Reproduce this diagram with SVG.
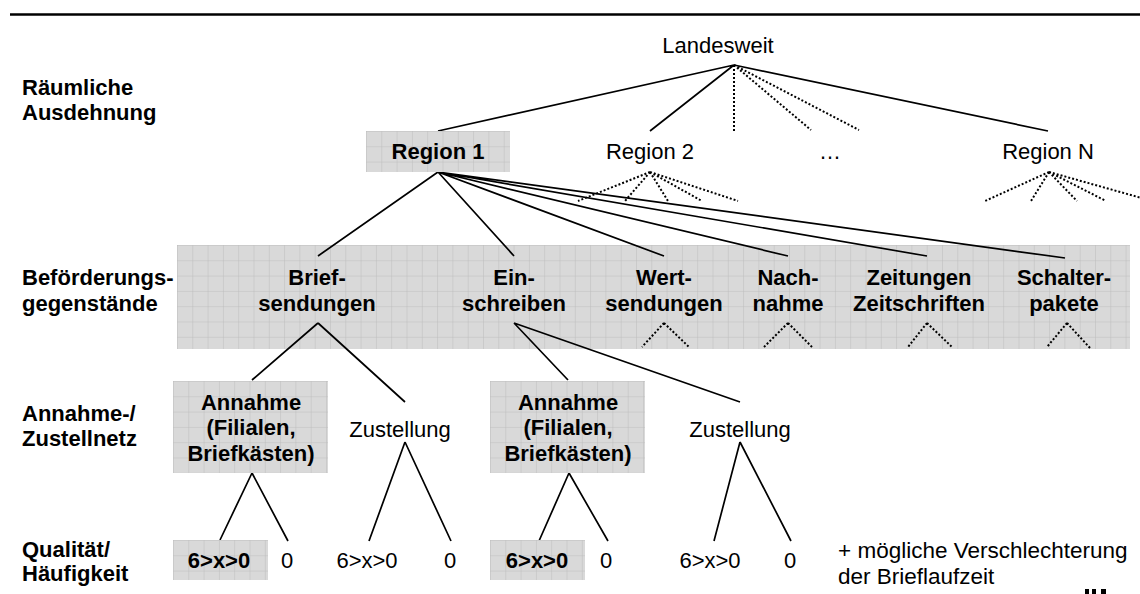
<svg xmlns="http://www.w3.org/2000/svg" width="1140" height="594" viewBox="0 0 1140 594">
<style>
text{font-family:"Liberation Sans",Arial,sans-serif;font-size:22px;fill:#000}
.b{font-weight:bold}
.m{text-anchor:middle}
.n{font-size:22.5px}
.ln{stroke:#000;stroke-width:1.7;fill:none}
.dt{stroke:#000;stroke-width:2;stroke-dasharray:2 2;fill:none}
.box{fill:url(#grid)}
</style>
<defs>
<pattern id="grid" patternUnits="userSpaceOnUse" width="15.3" height="15.3">
<rect width="15.3" height="15.3" fill="#d9d9d9"/>
<path d="M0 0V15.3M0 0H15.3" stroke="#bdbdbd" stroke-width="1"/>
</pattern>
</defs>
<rect width="1140" height="594" fill="#fff"/>
<line x1="10" y1="14.5" x2="1140" y2="14.5" stroke="#000" stroke-width="2.4"/>

<g id="levels">
<text class="b" x="22" y="95">Räumliche</text>
<text class="b" x="22" y="120">Ausdehnung</text>
<text class="b" x="22" y="285">Beförderungs-</text>
<text class="b" x="22" y="311">gegenstände</text>
<text class="b" x="22" y="421">Annahme-/</text>
<text class="b" x="22" y="446">Zustellnetz</text>
<text class="b" x="22" y="557">Qualität/</text>
<text class="b" x="22" y="581">Häufigkeit</text>
</g>

<g id="band"><rect class="box" transform="translate(177,245)" width="953" height="104"/></g>

<g id="connectors">
<path class="ln" d="M734 65L438 131M734 65L650 131M734 65L1048 131"/>
<path class="dt" d="M734 65L734 131M734 65L811 130M734 65L859 130"/>
<path class="dt" d="M650 172L578 201M650 172L625 201M650 172L668 201M650 172L702 201M650 172L738 201"/>
<path class="dt" d="M1049 172L985 201M1049 172L1031 201M1049 172L1077 201M1049 172L1106 201M1049 172L1145 199"/>
<path class="ln" d="M438 172L318 256M438 172L514 256M438 172L664 256M438 172L788 256M438 172L927 256M438 172L1065 258"/>
<path class="dt" d="M664 323L642 347M664 323L689 347M788 323L764 347M788 323L812 347M927 323L908 347M927 323L952 347M1067 323L1047 347M1067 323L1090 348"/>
<path class="ln" d="M318 323L252 380M318 323L405 402M514 323L568 380M514 323L740 402"/>
<path class="ln" d="M252 473L220 540M252 473L288 541M405 442L369 541M405 442L451 541"/>
<path class="ln" d="M569 473L539 541M569 473L608 541M740 442L714 541M740 442L791 541"/>
</g>

<g id="landesweit"><text class="m" x="718" y="53">Landesweit</text></g>
<g id="region1"><rect class="box" transform="translate(366,131)" width="144" height="41"/><text class="b m" x="438" y="159">Region 1</text></g>
<g id="region2"><text class="m" x="650" y="159">Region 2</text></g>
<g id="ellipsis"><text class="m" x="830" y="159">…</text></g>
<g id="regionN"><text class="m" x="1048" y="159">Region N</text></g>

<g id="briefsendungen"><text class="b m" x="317" y="285">Brief-</text><text class="b m" x="317" y="311">sendungen</text></g>
<g id="einschreiben"><text class="b m" x="514" y="285">Ein-</text><text class="b m" x="514" y="311">schreiben</text></g>
<g id="wertsendungen"><text class="b m" x="664" y="285">Wert-</text><text class="b m" x="664" y="311">sendungen</text></g>
<g id="nachnahme"><text class="b m" x="788" y="285">Nach-</text><text class="b m" x="788" y="311">nahme</text></g>
<g id="zeitungen"><text class="b m" x="919" y="285">Zeitungen</text><text class="b m" x="919" y="311">Zeitschriften</text></g>
<g id="schalterpakete"><text class="b m" x="1064" y="285">Schalter-</text><text class="b m" x="1064" y="311">pakete</text></g>

<g id="annahme1"><rect class="box" transform="translate(173,381)" width="155" height="92"/>
<text class="b m" x="251" y="410">Annahme</text><text class="b m" x="251" y="435">(Filialen,</text><text class="b m" x="251" y="461">Briefkästen)</text></g>
<g id="zustellung1"><text class="m" x="400" y="437">Zustellung</text></g>
<g id="annahme2"><rect class="box" transform="translate(490,381)" width="155" height="92"/>
<text class="b m" x="568" y="410">Annahme</text><text class="b m" x="568" y="435">(Filialen,</text><text class="b m" x="568" y="461">Briefkästen)</text></g>
<g id="zustellung2"><text class="m" x="740" y="437">Zustellung</text></g>

<g id="q1"><rect class="box" transform="translate(173,540)" width="95" height="40"/><text class="b m" x="219" y="568">6&gt;x&gt;0</text></g>
<g id="q2"><text class="m" x="287" y="568">0</text></g>
<g id="q3"><text class="m" x="367" y="568">6&gt;x&gt;0</text></g>
<g id="q4"><text class="m" x="450" y="568">0</text></g>
<g id="q5"><rect class="box" transform="translate(490,540)" width="95" height="40"/><text class="b m" x="537" y="568">6&gt;x&gt;0</text></g>
<g id="q6"><text class="m" x="606" y="568">0</text></g>
<g id="q7"><text class="m" x="710" y="568">6&gt;x&gt;0</text></g>
<g id="q8"><text class="m" x="790" y="568">0</text></g>
<g id="note"><text class="n" x="838" y="558">+ mögliche Verschlechterung</text><text class="n" x="838" y="584">der Brieflaufzeit</text></g>
<g id="logo-fragment"><rect x="1085" y="589" width="4" height="5"/><rect x="1092" y="589" width="4" height="5"/><rect x="1101" y="589" width="5" height="5"/></g>
</svg>
